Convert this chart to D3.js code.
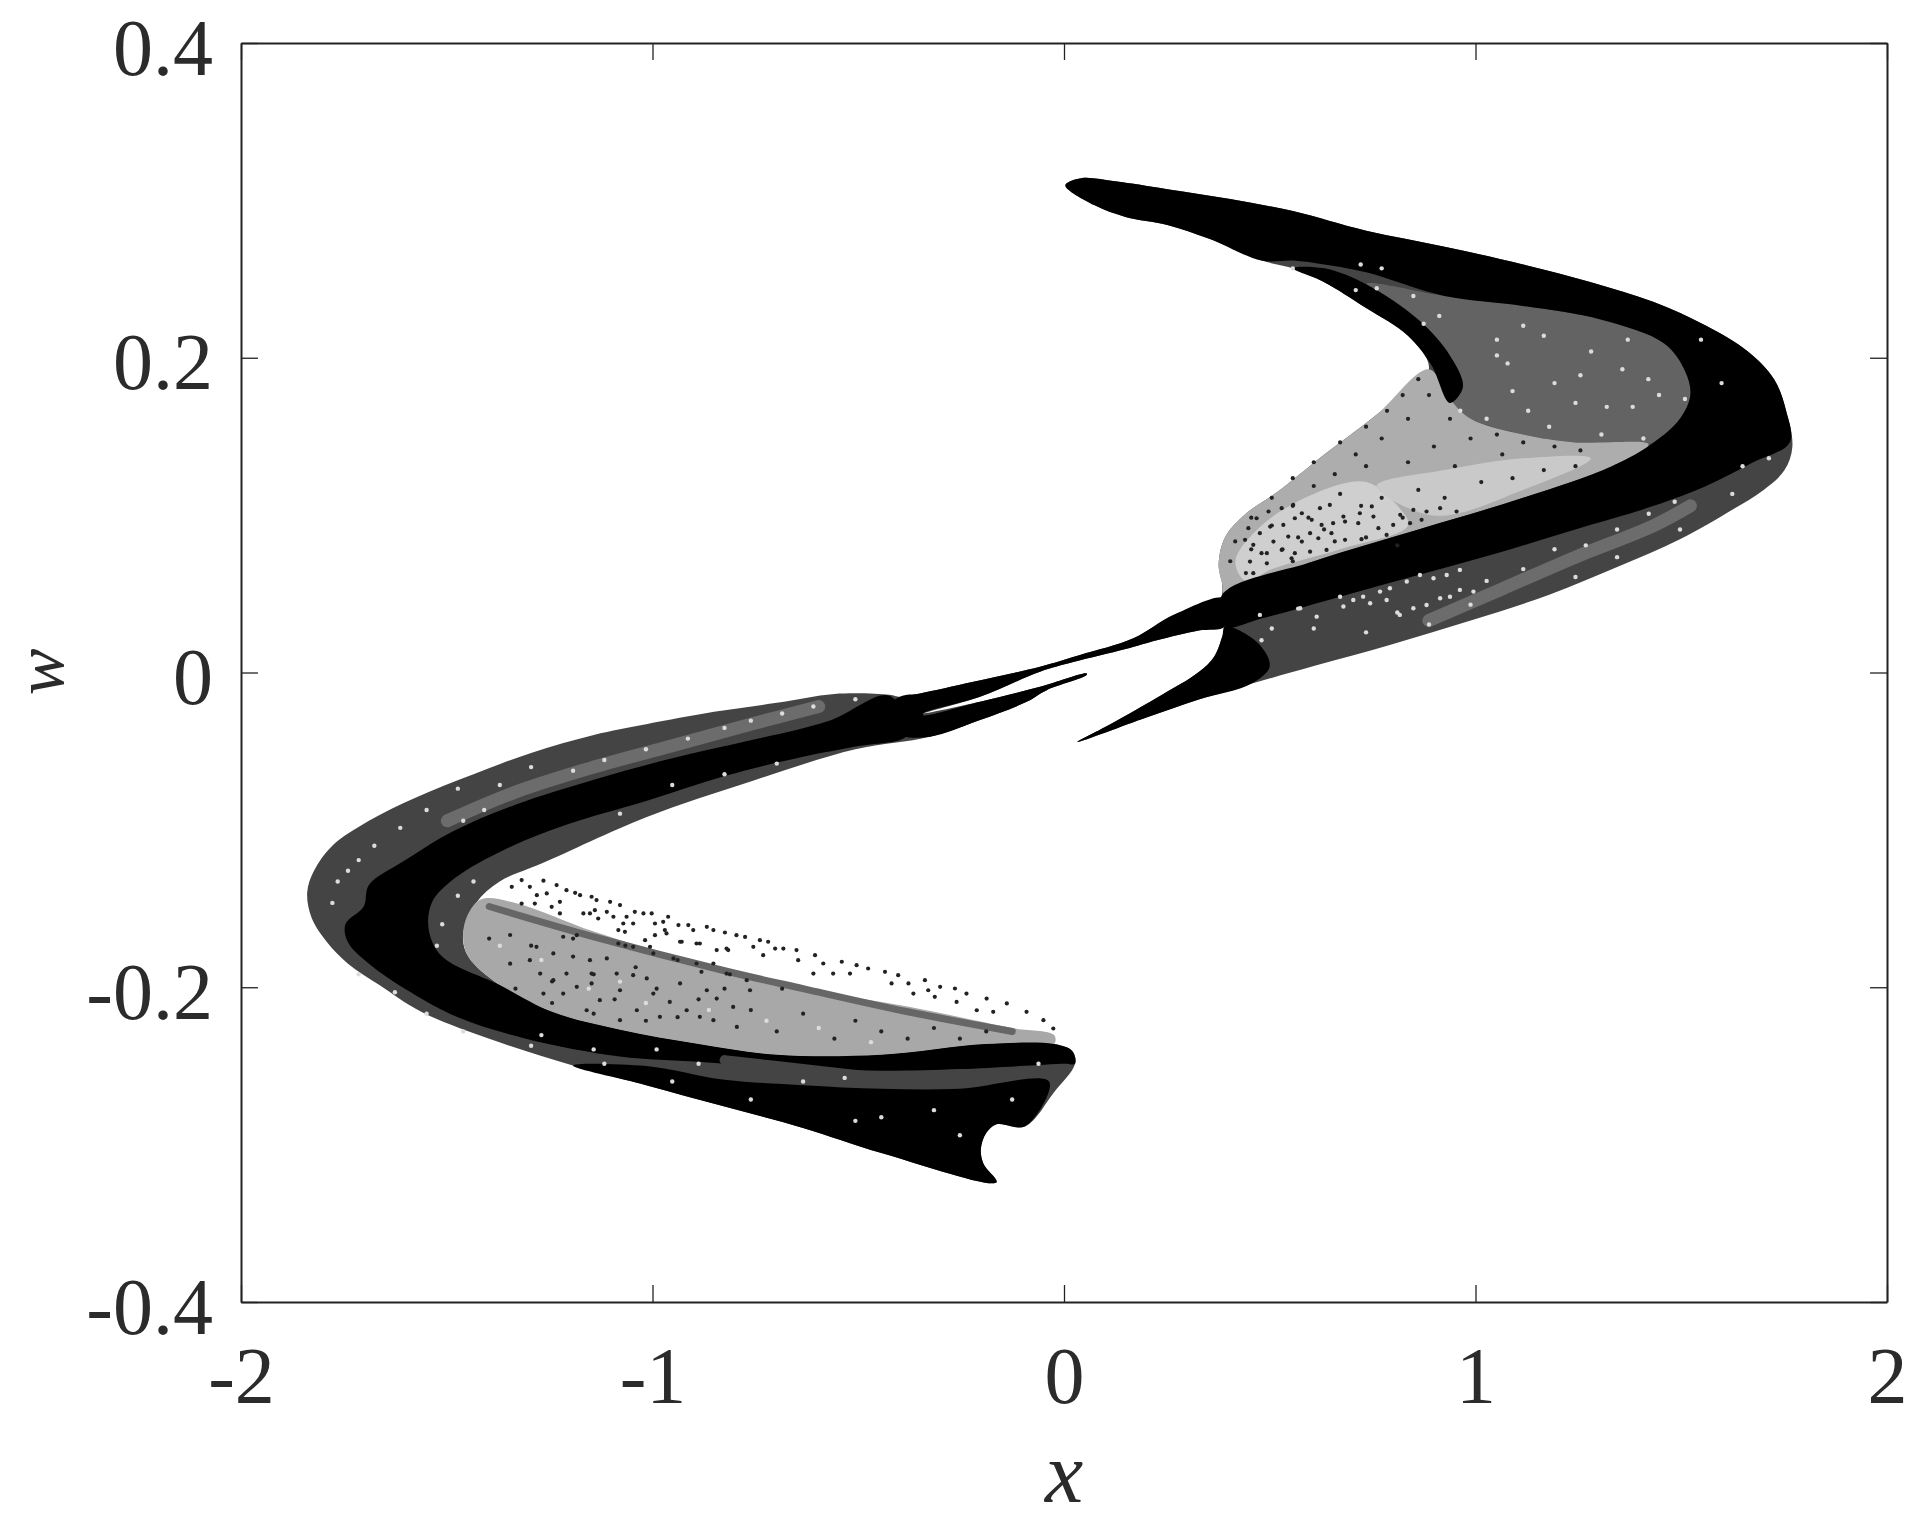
<!DOCTYPE html>
<html>
<head>
<meta charset="utf-8">
<script src="https://cdn.jsdelivr.net/npm/d3@7"></script>
<style>
  html, body { margin: 0; padding: 0; background: #fff; }
  text { font-family: "Liberation Serif", serif; fill: #2b2b2b; }
</style>
</head>
<body>
<div id="chart"></div>
<script>
var xTicks = [-2, -1, 0, 1, 2];
var xTickLabels = ["-2", "-1", "0", "1", "2"];
var wTicks = [-0.4, -0.2, 0, 0.2, 0.4];
var wTickLabels = ["-0.4", "-0.2", "0", "0.2", "0.4"];

// whole attractor outline, [x, w]
var envelope = [[.0034,.3096],[.0415,.3141],[.1241,.3121],[.2512,.3071],[.4037,.3008],[.5563,.2932],[.7342,.2807],[.9249,.2706],[1.1155,.2593],[1.2807,.2480],[1.4333,.2354],[1.5604,.2203],[1.6620,.2040],[1.7256,.1864],[1.7548,.1663],[1.7701,.1436],[1.7510,.1286],[1.7002,.1160],[1.6239,.1034],[1.4968,.0846],[1.3443,.0670],[1.1791,.0494],[.9884,.0330],[.7978,.0180],[.6071,.0041],[.4546,-.0072],[.3275,-.0172],[.2004,-.0286],[.0326,-.0441],[.0987,-.0348],[.2258,-.0160],[.3275,.0003],[.3656,.0104],[.3847,.0230],[.3911,.0293],[.3275,.0267],[.2258,.0205],[.1495,.0149],[.0225,.0066],[-.0583,.0005],[-.2041,-.0154],[-.3418,-.0260],[-.2041,-.0186],[-.0583,-.0091],[.0551,-.0006],[.0551,-.0016],[-.0421,-.0112],[-.0907,-.0186],[-.2041,-.0302],[-.3256,-.0408],[-.5071,-.0488],[-.7613,-.0692],[-1.0155,-.0919],[-1.2697,-.1214],[-1.3714,-.1328],[-1.4286,-.1464],[-1.4604,-.1668],[-1.4477,-.1805],[-1.3714,-.1986],[-1.2443,-.2156],[-1.0791,-.2270],[-.8884,-.2361],[-.6978,-.2429],[-.4436,-.2429],[-.1894,-.2361],[-.0242,-.2361],[.0204,-.2406],[.0268,-.2486],[-.0242,-.2667],[-.0941,-.2883],[-.1640,-.2871],[-.1894,-.2928],[-.2021,-.3030],[-.1957,-.3121],[-.1640,-.3239],[-.4436,-.3053],[-.6342,-.2894],[-.8248,-.2758],[-1.0155,-.2622],[-1.1934,-.2497],[-1.3968,-.2327],[-1.5620,-.2156],[-1.6637,-.1986],[-1.7400,-.1850],[-1.7908,-.1714],[-1.8289,-.1555],[-1.8391,-.1396],[-1.8226,-.1260],[-1.7781,-.1101],[-1.6891,-.0942],[-1.5747,-.0794],[-1.4349,-.0647],[-1.2951,-.0511],[-1.1426,-.0397],[-1.0155,-.0329],[-.8503,-.0250],[-.6978,-.0193],[-.5579,-.0136],[-.4245,-.0141],[-.3985,-.0154],[-.3499,-.0133],[-.2203,-.0059],[-.0583,.0037],[.0389,.0111],[.1685,.0217],[.2657,.0365],[.3791,.0471],[.3847,.0557],[.3758,.0682],[.3911,.0858],[.4419,.1009],[.5181,.1147],[.6325,.1386],[.7596,.1638],[.8867,.1927],[.8359,.2140],[.7342,.2316],[.6325,.2480],[.5563,.2568],[.4800,.2618],[.3529,.2756],[.2512,.2844],[.1495,.2895],[.0733,.2970]];

// grainy regions, lighter than the envelope
var grainUpper = [[.9694,.1814],[.9376,.2015],[.8613,.2241],[.7342,.2467],[.9249,.2392],[1.1155,.2329],[1.3062,.2241],[1.4587,.2090],[1.5095,.1914],[1.5222,.1763],[1.4968,.1612],[1.4206,.1449],[1.2426,.1462],[1.1155,.1512],[.9884,.1612],[.9376,.1713]];
var pocketUpper = [[.8867,.1927],[.7596,.1638],[.6325,.1386],[.5181,.1147],[.4419,.1009],[.3911,.0858],[.3758,.0682],[.3847,.0557],[.3911,.0494],[.6071,.0707],[.8613,.0909],[1.1155,.1110],[1.3316,.1311],[1.4206,.1449],[1.2426,.1462],[1.1155,.1512],[.9884,.1612],[.9376,.1738]];
var holeUpperA = [[.6071,.1135],[.7342,.1210],[.8105,.1059],[.8359,.0934],[.6707,.0783],[.5054,.0657],[.4419,.0582],[.4165,.0707],[.4800,.0934]];
var holeUpperB = [[.7596,.1185],[.9249,.1286],[1.1155,.1361],[1.2807,.1361],[1.1155,.1160],[.8995,.0997]];
var pocketLower = [[-1.4159,-.1441],[-1.3333,-.1464],[-1.1426,-.1646],[-.8884,-.1850],[-.6342,-.2009],[-.3800,-.2122],[-.1258,-.2259],[-.0241,-.2304],[-.0242,-.2361],[-.1894,-.2361],[-.4436,-.2429],[-.6978,-.2429],[-.8884,-.2361],[-1.0791,-.2270],[-1.2443,-.2156],[-1.3714,-.1986],[-1.4477,-.1805],[-1.4604,-.1668],[-1.4476,-.1532]];

// solid black bands
var blackUpper = [[.0034,.3096],[.0415,.3141],[.1241,.3121],[.2512,.3071],[.4037,.3008],[.5563,.2932],[.7342,.2807],[.9249,.2706],[1.1155,.2593],[1.2807,.2480],[1.4333,.2354],[1.5604,.2203],[1.6620,.2040],[1.7256,.1864],[1.7548,.1663],[1.7637,.1462],[1.6747,.1336],[1.5604,.1185],[1.4333,.1059],[1.2426,.0909],[1.0520,.0758],[.8613,.0619],[.6707,.0481],[.4800,.0343],[.3911,.0293],[.3847,.0494],[.6071,.0707],[.8613,.0909],[1.1155,.1110],[1.3316,.1311],[1.4333,.1462],[1.4968,.1612],[1.5222,.1763],[1.5095,.1914],[1.4587,.2090],[1.3062,.2241],[1.1155,.2329],[.9249,.2392],[.7342,.2543],[.6325,.2593],[.5563,.2618],[.4800,.2618],[.3529,.2756],[.2512,.2844],[.1495,.2895],[.0733,.2970]];
var blackCorner = [[.5563,.2568],[.6325,.2480],[.7342,.2316],[.8359,.2140],[.8931,.1952],[.9376,.1713],[.9694,.1814],[.9376,.2015],[.8613,.2241],[.7342,.2467],[.6325,.2568]];
var blackTails = [[.3911,.0471],[.2657,.0365],[.1685,.0217],[.0389,.0111],[-.0583,.0037],[-.2203,-.0059],[-.3499,-.0133],[-.3985,-.0154],[-.4600,-.0300],[-.4000,-.0400],[-.3256,-.0408],[-.2041,-.0302],[-.0907,-.0186],[-.0421,-.0112],[.0551,-.0016],[.0551,-.0006],[-.0583,-.0091],[-.2041,-.0186],[-.3418,-.0271],[-.3418,-.0260],[-.2041,-.0154],[-.0583,.0005],[.0225,.0066],[.1495,.0149],[.2258,.0205],[.3275,.0267],[.3911,.0293]];
var blackTailLow = [[.0326,-.0441],[.0987,-.0348],[.2258,-.0160],[.3275,.0003],[.3656,.0104],[.3847,.0230],[.3911,.0293],[.4700,.0190],[.5000,.0040],[.4546,-.0072],[.3275,-.0172],[.2004,-.0286]];
var blackLowerArc = [[-.4245,-.0147],[-.5706,-.0306],[-.7613,-.0431],[-.9520,-.0545],[-1.1426,-.0681],[-1.3333,-.0840],[-1.4858,-.1010],[-1.6002,-.1192],[-1.6891,-.1351],[-1.7018,-.1487],[-1.7463,-.1600],[-1.7400,-.1714],[-1.6891,-.1850],[-1.5874,-.2032],[-1.4730,-.2191],[-1.3078,-.2327],[-1.0791,-.2440],[-.8884,-.2474],[-.6978,-.2509],[-.4436,-.2531],[-.2530,-.2520],[.0012,-.2486],[.0268,-.2486],[.0204,-.2406],[-.0242,-.2361],[-.1894,-.2361],[-.4436,-.2429],[-.6978,-.2429],[-.8884,-.2361],[-1.0791,-.2270],[-1.2443,-.2156],[-1.3714,-.1986],[-1.5112,-.1805],[-1.5430,-.1646],[-1.5366,-.1464],[-1.4794,-.1305],[-1.3587,-.1124],[-1.2061,-.0965],[-1.0155,-.0817],[-.8248,-.0658],[-.6342,-.0535],[-.5071,-.0470],[-.3800,-.0395]];
var blackLowerTail = [[-1.1934,-.2497],[-1.0155,-.2500],[-.8248,-.2588],[-.6342,-.2622],[-.4436,-.2645],[-.2530,-.2645],[-.0363,-.2599],[-.0941,-.2883],[-.1640,-.2871],[-.1894,-.2928],[-.2021,-.3030],[-.1957,-.3121],[-.1640,-.3239],[-.4436,-.3053],[-.6342,-.2894],[-.8248,-.2758],[-1.0155,-.2622]];

// streaks
var saltUpper = [[.8867,.0330],[1.0647,.0531],[1.2426,.0733],[1.4333,.0934],[1.5222,.1059]];
var saltLowerTop = [[-1.4985,-.0942],[-1.3333,-.0760],[-1.1426,-.0601],[-.9520,-.0465],[-.7613,-.0329],[-.5960,-.0216]];
var saltLowerBottom = [[-.8248,-.2463],[-.6342,-.2520],[-.4775,-.2565],[-.2910,-.2611]];
var darkPocketStreak = [[-1.3968,-.1487],[-1.1426,-.1680],[-.8248,-.1895],[-.6342,-.2009],[-.3800,-.2156],[-.1258,-.2281]];

var fringePoints = [[-1.265,-.1323],[-1.233,-.1351],[-1.298,-.1362],[-1.318,-.1319],[-1.342,-.1362],[-1.209,-.1383],[-1.188,-.1400],[-1.257,-.1404],[-1.281,-.1415],[-1.148,-.1425],[-1.176,-.1415],[-1.136,-.1446],[-1.318,-.1468],[-1.286,-.1468],[-1.225,-.1457],[-1.103,-.1457],[-1.079,-.1478],[-1.225,-.1531],[-1.245,-.1489],[-1.140,-.1510],[-1.111,-.1521],[-1.168,-.1531],[-1.152,-.1531],[-1.043,-.1521],[-1.022,-.1531],[-1.002,-.1531],[-1.063,-.1552],[-.962,-.1552],[-.974,-.1584],[-.994,-.1595],[-.937,-.1605],[-.913,-.1605],[-.901,-.1637],[-.868,-.1616],[-.852,-.1637],[-.824,-.1652],[-.796,-.1669],[-.775,-.1680],[-.970,-.1637],[-.994,-.1669],[-1.018,-.1701],[-.929,-.1711],[-.893,-.1722],[-.844,-.1764],[-.816,-.1764],[-.739,-.1701],[-.719,-.1711],[-.702,-.1754],[-.755,-.1743],[-.731,-.1796],[-1.067,-.1648],[-1.083,-.1637],[-1.047,-.1595],[-1.071,-.1595],[-1.132,-.1563],[-1.095,-.1552],[-.682,-.1754],[-.650,-.1764],[-.605,-.1796],[-.646,-.1828],[-.585,-.1849],[-.540,-.1838],[-.504,-.1860],[-.476,-.1881],[-.435,-.1902],[-.403,-.1923],[-.378,-.1976],[-.338,-.1955],[-.301,-.1997],[-.265,-.2008],[-.237,-.2040],[-.188,-.2072],[-.139,-.2103],[-.091,-.2156],[-.050,-.2209],[-.026,-.2262],[-.330,-.2019],[-.314,-.2061],[-.261,-.2093],[-.212,-.2146],[-.172,-.2156],[-.366,-.2040],[-.419,-.1976],[-.561,-.1913],[-.520,-.1913],[-.609,-.1913]];
var lowerCorePoints = [[-1.397,-.1691],[-1.346,-.1850],[-1.295,-.1736],[-1.244,-.1963],[-1.193,-.1805],[-1.143,-.1918],[-1.092,-.2077],[-1.041,-.1873],[-.990,-.2009],[-.939,-.2190],[-.888,-.2077],[-.825,-.2009],[-.761,-.2145],[-.698,-.2281],[-.634,-.2168],[-.558,-.2327],[-.507,-.2213],[-.444,-.2281],[-.380,-.2327],[-.316,-.2259],[-.253,-.2327],[-.189,-.2281],[-1.016,-.2213],[-1.143,-.2168],[-1.244,-.2100],[-1.333,-.2009],[-1.346,-.1668],[-1.193,-.1691],[-1.066,-.1736],[-.939,-.1827],[-.812,-.1918],[-.685,-.2009],[-1.152,-.1828],[-1.148,-.1913],[-1.148,-.1976],[-1.217,-.1679],[-1.184,-.1669],[-1.083,-.1722],[-1.047,-.1743],[-.998,-.1785],[-.949,-.1817],[-.893,-.1849],[-.852,-.1849],[-.881,-.1902],[-.820,-.1913],[-.771,-.1955],[-1.241,-.1785],[-1.282,-.1743],[-1.298,-.1828],[-1.273,-.1913],[-1.241,-.1955],[-1.209,-.1913],[-1.184,-.1997],[-1.217,-.2040],[-1.265,-.2040],[-1.111,-.1817],[-1.087,-.1913],[-1.047,-.1923],[-1.014,-.1944],[-1.079,-.2019],[-.998,-.2040],[-.958,-.2093],[-.917,-.2146],[-.885,-.2188],[-.844,-.2072],[-.804,-.2125],[-.763,-.2019],[-.933,-.1976],[-.868,-.2019],[-1.128,-.2082],[-1.160,-.2146],[-1.038,-.2146],[-1.079,-.2209],[-.982,-.2188],[-.933,-.1711],[-.885,-.1722],[-.820,-.1754],[-.852,-.2209],[-.795,-.2252],[-1.006,-.1743],[-.966,-.1658]];
var upperPocketPoints = [[.861,.1864],[.823,.1763],[.785,.1663],[.734,.1562],[.671,.1462],[.607,.1336],[.556,.1235],[.505,.1110],[.455,.0984],[.416,.0833],[.404,.0707],[.455,.0783],[.505,.0934],[.556,.1059],[.607,.1185],[.658,.1260],[.709,.1386],[.772,.1487],[.836,.1612],[.887,.1763],[.938,.1612],[.988,.1487],[1.052,.1512],[1.116,.1462],[1.192,.1436],[1.255,.1411],[.899,.1436],[.836,.1336],[.734,.1311],[.671,.1135],[.722,.1059],[.772,.1110],[.823,.0984],[.632,.0909],[.569,.0858],[.493,.0758],[.442,.0632],[.556,.0707],[.658,.0833],[.734,.0858],[.925,.1110],[1.014,.1210],[1.090,.1235],[1.166,.1286],[1.243,.1311],[.950,.1311],[1.065,.1386],[.861,.1160],[.683,.0959],[.594,.0984],[.531,.0783],[.810,.0808],[.468,.0980],[.497,.1023],[.529,.1044],[.557,.1065],[.578,.1012],[.602,.0970],[.622,.1044],[.646,.1065],[.679,.0991],[.719,.1012],[.752,.0991],[.748,.1055],[.715,.0949],[.654,.0949],[.626,.0938],[.598,.0885],[.561,.0980],[.533,.0938],[.501,.0927],[.476,.0885],[.448,.0917],[.509,.0832],[.545,.0864],[.578,.0832],[.618,.0853],[.650,.0885],[.683,.0843],[.723,.0847],[.764,.0917],[.784,.0874],[.460,.0811],[.480,.0758],[.440,.0843],[.529,.0779],[.561,.0758],[.598,.0768],[.638,.0779],[.452,.0705],[.493,.0694],[.460,.0631],[.553,.0726],[.817,.1002],[.849,.1033],[.881,.1023],[.841,.0949],[.914,.1044],[.800,.0938],[.869,.0970],[.954,.1023]];

// gaps (white specks) seen inside the darker regions
var upperGaps = [[.556,.2568],[.721,.2593],[.772,.2568],[.709,.2430],[.849,.2392],[.760,.2442],[.912,.2266],[.874,.2216],[1.052,.2015],[1.078,.1964],[1.192,.1839],[1.281,.2040],[1.357,.1927],[1.420,.1864],[1.509,.1738],[1.166,.2140],[1.116,.2203],[1.052,.2115],[1.243,.1713],[1.319,.1688],[1.382,.1688],[1.446,.1763],[1.306,.1512],[1.128,.1663],[1.027,.1612],[.963,.1663],[1.179,.1562],[1.408,.1487],[1.090,.1788],[1.255,.1889],[1.370,.2115],[1.548,.2115],[1.598,.1839],[1.649,.1311],[1.713,.1361],[1.484,.1085],[1.421,.1009],[1.344,.0909],[1.268,.0808],[1.192,.0783],[1.116,.0657],[1.027,.0582],[.938,.0481],[.887,.0305],[.734,.0255],[.671,.0481],[.569,.0406],[.480,.0205],[.505,.0280],[.607,.0280],[.810,.0381],[.988,.0431],[1.497,.0909],[1.624,.1135],[1.243,.0607],[1.344,.0733],[.962,.0652],[.930,.0620],[.898,.0599],[.865,.0620],[.833,.0578],[.792,.0535],[.768,.0514],[.727,.0482],[.703,.0461],[.914,.0472],[.881,.0429],[.849,.0408],[.816,.0366],[.962,.0525],[.995,.0514],[.574,.0408],[.679,.0419],[.614,.0355],[.744,.0440],[.784,.0461],[.476,.0366]];
var lowerGaps = [[-1.740,-.1260],[-1.765,-.1328],[-1.714,-.1192],[-1.778,-.1464],[-1.460,-.0942],[-1.409,-.0874],[-1.473,-.0738],[-1.371,-.0715],[-1.295,-.0601],[-1.193,-.0624],[-1.117,-.0556],[-1.016,-.0488],[-.914,-.0420],[-.825,-.0352],[-.761,-.0306],[-.685,-.0261],[-.609,-.0216],[-.507,-.0170],[-1.549,-.0874],[-1.613,-.0987],[-1.676,-.1101],[-1.511,-.1600],[-1.524,-.1736],[-1.435,-.1328],[-1.473,-.1419],[-.952,-.0715],[-.825,-.0647],[-.698,-.0579],[-1.079,-.0897],[-1.714,-.1918],[-1.626,-.2032],[-1.549,-.2168],[-1.460,-.2281],[-1.295,-.2372],[-1.117,-.2486],[-.952,-.2599],[-.761,-.2713],[-.507,-.2849],[-.316,-.2781],[-.253,-.2940],[-.444,-.2826],[-.126,-.2713],[-.062,-.2486],[-.634,-.2599],[-.533,-.2576],[-.990,-.2395],[-.888,-.2486],[-1.270,-.2304],[-1.143,-.2395],[-1.371,-.1736],[-1.270,-.1827],[-1.155,-.2009],[-1.016,-.2100],[-.863,-.2145],[-.723,-.2213],[-.596,-.2259],[-.469,-.2349],[-1.079,-.1964]];

var width = 1920, height = 1522;
var x = d3.scaleLinear().domain([-2, 2]).range([241, 1887]);
var w = d3.scaleLinear().domain([-0.4, 0.4]).range([1302, 43]);

var svg = d3.select("#chart").append("svg")
    .attr("width", width)
    .attr("height", height)
    .style("display", "block");

var area = d3.line()
    .x(function(d){return x(d[0]);})
    .y(function(d){return w(d[1]);})
    .curve(d3.curveCatmullRomClosed.alpha(0.5));
var path = d3.line()
    .x(function(d){return x(d[0]);})
    .y(function(d){return w(d[1]);})
    .curve(d3.curveCatmullRom.alpha(0.5));

function fillShape(d, color){
  svg.append("path").attr("d", area(d)).attr("fill", color);
}
function streak(d, color, sw){
  svg.append("path").attr("d", path(d)).attr("fill", "none")
    .attr("stroke", color).attr("stroke-width", sw).attr("stroke-linecap", "round");
}
function dots(d, color, r){
  svg.append("g").selectAll("circle")
      .data(d)
    .enter().append("circle")
      .attr("cx", function(p){return x(p[0]);})
      .attr("cy", function(p){return w(p[1]);})
      .attr("r", r)
      .attr("fill", color);
}

fillShape(envelope, "#444");
fillShape(grainUpper, "#636363");
fillShape(pocketUpper, "#adadad");
fillShape(holeUpperA, "#cfcfcf");
fillShape(holeUpperB, "#c9c9c9");
fillShape(pocketLower, "#a8a8a8");
fillShape(blackUpper, "#000");
fillShape(blackCorner, "#000");
fillShape(blackTails, "#000");
fillShape(blackTailLow, "#000");
fillShape(blackLowerArc, "#000");
fillShape(blackLowerTail, "#000");
streak(saltUpper, "#6c6c6c", 13);
streak(saltLowerTop, "#6c6c6c", 13);
streak(saltLowerBottom, "#444", 10);
streak(darkPocketStreak, "#666", 7);
dots(fringePoints, "#222", 2.1);
dots(lowerCorePoints, "#222", 2.1);
dots(upperPocketPoints, "#222", 2.1);
dots(upperGaps, "#dcdcdc", 2.2);
dots(lowerGaps, "#dcdcdc", 2.2);

// frame and ticks
function axisStyle(g){
  g.select(".domain").attr("stroke", "#222").attr("stroke-width", 2);
  g.selectAll(".tick line").attr("stroke", "#222").attr("stroke-width", 1.3);
  g.selectAll("text").attr("font-size", 80).attr("font-family", '"Liberation Serif", serif').attr("fill", "#2b2b2b");
}
svg.append("g").attr("transform", "translate(0,1302)")
  .call(d3.axisBottom(x).tickValues(xTicks).tickSizeInner(-17).tickSizeOuter(0).tickPadding(44)
    .tickFormat(function(d,i){return xTickLabels[i];}))
  .call(axisStyle);
svg.append("g").attr("transform", "translate(0,43)")
  .call(d3.axisTop(x).tickValues(xTicks).tickSizeInner(-17).tickSizeOuter(0).tickFormat(""))
  .call(axisStyle);
svg.append("g").attr("transform", "translate(241,0)")
  .call(d3.axisLeft(w).tickValues(wTicks).tickSizeInner(-17).tickSizeOuter(0).tickPadding(28)
    .tickFormat(function(d,i){return wTickLabels[i];}))
  .call(axisStyle)
  .selectAll("text").attr("dy", "0.39em");
svg.append("g").attr("transform", "translate(1887,0)")
  .call(d3.axisRight(w).tickValues(wTicks).tickSizeInner(-17).tickSizeOuter(0).tickFormat(""))
  .call(axisStyle);

svg.append("text").attr("x", 1064).attr("y", 1502).attr("text-anchor", "middle")
  .attr("font-size", 86).attr("font-style", "italic").text("x");
svg.append("text").attr("transform", "translate(62.5,672) rotate(-90)").attr("text-anchor", "middle")
  .attr("font-size", 70).attr("font-style", "italic").text("w");
</script>
</body>
</html>
